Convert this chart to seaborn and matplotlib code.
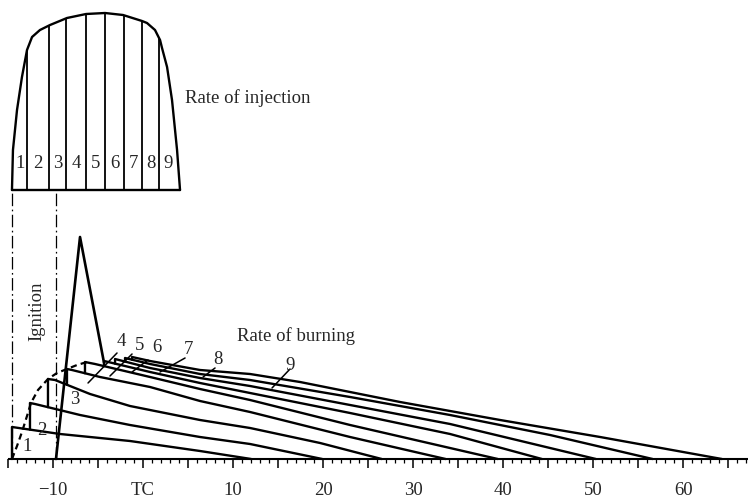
import numpy as np
import pandas as pd
import matplotlib
matplotlib.use("Agg")
import matplotlib.pyplot as plt
import seaborn as sns
from matplotlib.ticker import MultipleLocator, FuncFormatter

sns.set_theme(style="white")
plt.rcParams["font.family"] = ["Liberation Serif", "DejaVu Serif"]
plt.rcParams["lines.scale_dashes"] = False

# ---------------- data (crank angle in degrees, rate in arbitrary units) ----------------
# Rate of injection outline (relative to its own base line)
inj_deg = [-14.57, -14.46, -14.01, -13.46, -12.90, -12.34, -11.46, -10.34, -8.46, -6.34,
           -4.23, -2.23, -0.12, 0.43, 1.32, 1.88, 2.10, 2.66, 3.21, 3.77, 4.10]
inj_rate = [0.0, 4.0, 8.0, 11.3, 14.0, 15.3, 16.0, 16.5, 17.2, 17.6,
            17.7, 17.5, 16.9, 16.7, 16.0, 15.0, 14.2, 12.3, 9.0, 4.0, 0.0]
inj_dividers = [-12.90, -10.46, -8.57, -6.34, -4.23, -2.12, -0.12, 1.77]
parcel_labels = ["1", "2", "3", "4", "5", "6", "7", "8", "9"]

start_of_injection = -14.57
ignition = -9.68

# Premixed spike
spike_deg = [-9.68, -7.01, -4.34]
spike_rate = [0.0, 22.2, 9.6]

# Dashed envelope of burning start
env_deg = [-14.57, -14.01, -13.46, -12.90, -12.46, -11.68, -10.57, -9.57, -8.46, -7.34, -6.23]
env_rate = [0.0, 1.3, 2.7, 4.3, 5.6, 6.9, 8.0, 8.6, 9.0, 9.4, 9.7]

# Cumulative burning-rate curves 1..9
c1_deg = [-14.57, -9.23, -1.46, 6.32, 12.0]
c1_rate = [3.2, 2.5, 1.8, 0.8, 0.0]
c2_deg = [-12.57, -12.01, -7.01, -1.46, 6.32, 11.88, 19.9]
c2_rate = [5.6, 5.5, 4.4, 3.4, 2.2, 1.5, 0.0]
c3_deg = [-10.57, -9.79, -5.90, -1.46, 6.32, 11.88, 19.66, 26.5]
c3_rate = [8.0, 7.9, 6.5, 5.3, 3.9, 3.1, 1.6, 0.0]
c4_deg = [-8.46, -7.90, -4.79, 0.77, 6.32, 11.88, 22.99, 33.6]
c4_rate = [9.0, 8.9, 8.2, 7.2, 5.8, 4.7, 2.2, 0.0]
c5_deg = [-6.46, -5.34, 0.77, 6.32, 11.88, 22.99, 39.4]
c5_rate = [9.7, 9.5, 8.2, 7.0, 5.9, 3.4, 0.0]
c6_deg = [-4.34, 0.77, 6.32, 11.88, 22.99, 34.10, 44.3]
c6_rate = [9.8, 8.7, 7.6, 6.6, 4.6, 2.5, 0.0]
c7_deg = [-3.12, 0.77, 6.32, 11.88, 22.99, 34.10, 50.3]
c7_rate = [10.0, 9.1, 8.1, 7.3, 5.4, 3.5, 0.0]
c8_deg = [-2.01, 0.77, 6.32, 11.88, 22.99, 34.10, 45.21, 56.6]
c8_rate = [10.1, 9.5, 8.5, 7.9, 6.2, 4.4, 2.4, 0.0]
c9_deg = [-1.23, 0.77, 6.32, 11.88, 17.43, 28.54, 39.66, 50.77, 64.3]
c9_rate = [10.2, 9.8, 8.9, 8.5, 7.7, 5.7, 3.9, 2.2, 0.0]

curve_degs = [c1_deg, c2_deg, c3_deg, c4_deg, c5_deg, c6_deg, c7_deg, c8_deg, c9_deg]
curve_rates = [c1_rate, c2_rate, c3_rate, c4_rate, c5_rate, c6_rate, c7_rate, c8_rate, c9_rate]

# curve number labels (position of text)
curve_label_deg = [-12.90, -11.23, -7.57, -2.46, -0.34, 1.54, 4.99, 8.32, 16.32]
curve_label_rate = [1.3, 2.9, 6.0, 11.8, 11.3, 11.1, 10.9, 9.9, 9.4]

x_ticklabels = {-10: "\u221210", 0: "TC", 10: "10", 20: "20", 30: "30",
                40: "40", 50: "50", 60: "60"}

# ---------------- layout constants ----------------
INJ_BASE = 26.9
FS = 13.5

fig = plt.figure(figsize=(7.48, 4.98), dpi=100)
ax = fig.add_axes([0, 0, 1, 1])
ax.set_xlim(-15.9, 67.2)
ax.set_ylim(-3.9, 45.9)

# ---------------- burning curves (cumulative) ----------------
rows = []
prev_deg, prev_rate = None, None
for k, (d, r) in enumerate(zip(curve_degs, curve_rates), start=1):
    bottom = 0.0 if prev_deg is None else float(np.interp(d[0], prev_deg, prev_rate))
    pts = [(d[0], bottom)] + list(zip(d, r))
    for i, (x, y) in enumerate(pts):
        rows.append({"deg": x, "rate": y, "curve": k, "order": i})
    prev_deg, prev_rate = d, r
burn = pd.DataFrame(rows)
sns.lineplot(data=burn, x="deg", y="rate", units="curve", estimator=None, sort=False,
             color="black", lw=1.7, legend=False, ax=ax)

# spike
sns.lineplot(x=spike_deg, y=spike_rate, sort=False, estimator=None, color="black",
             lw=1.9, ax=ax)
# envelope
sns.lineplot(x=env_deg, y=env_rate, sort=False, estimator=None, color="black",
             lw=1.6, linestyle=(0, (4.5, 3.0)), ax=ax)

# ---------------- injection diagram ----------------
inj_df = pd.DataFrame({"deg": inj_deg, "rate": np.array(inj_rate) + INJ_BASE})
sns.lineplot(data=inj_df, x="deg", y="rate", sort=False, estimator=None,
             color="black", lw=1.7, ax=ax)
ax.plot([inj_deg[0], inj_deg[-1]], [INJ_BASE, INJ_BASE], color="black", lw=1.7)
div_tops = np.interp(inj_dividers, inj_deg, inj_rate) + INJ_BASE
ax.vlines(inj_dividers, INJ_BASE, div_tops, color="black", lw=1.3)
bounds = [-14.46] + list(inj_dividers) + [3.88]
for i, lab in enumerate(parcel_labels):
    ax.text((bounds[i] + bounds[i + 1]) / 2, INJ_BASE + 2.6, lab, ha="center",
            va="center", fontsize=FS)

# dash-dot reference lines
for xv in (start_of_injection, ignition):
    ax.plot([xv, xv], [0, INJ_BASE], color="black", lw=0.9,
            linestyle=(0, (9, 2.5, 1.2, 2.5)))

# ---------------- text ----------------
ax.text(4.66, 36.1, "Rate of injection", ha="left", va="center", fontsize=FS)
ax.text(10.43, 12.3, "Rate of burning", ha="left", va="center", fontsize=FS)
ax.text(-11.79, 14.8, "Ignition", ha="center", va="center", rotation=90, fontsize=FS)

leader_targets = {4: (-6.12, 7.6), 5: (-3.68, 8.3), 6: (-1.23, 8.7), 7: (1.88, 8.7),
                  8: (6.66, 8.2), 9: (14.32, 7.1)}
leader_starts = {4: (-2.9, 10.6), 5: (-1.23, 10.5), 6: (0.54, 9.9), 7: (4.66, 10.1),
                 8: (7.99, 9.1), 9: (16.32, 9.0)}
for i, lab in enumerate(parcel_labels):
    ax.text(curve_label_deg[i], curve_label_rate[i], lab, ha="center", va="center",
            fontsize=FS)
    k = i + 1
    if k in leader_targets:
        (x0, y0), (x1, y1) = leader_starts[k], leader_targets[k]
        ax.plot([x0, x1], [y0, y1], color="black", lw=1.1)

# ---------------- axis ----------------
for s in ("top", "right", "left"):
    ax.spines[s].set_visible(False)
ax.spines["bottom"].set_position(("data", 0))
ax.spines["bottom"].set_bounds(-14.9, 67.2)
ax.spines["bottom"].set_linewidth(1.5)
ax.spines["bottom"].set_color("black")
ax.set_yticks([])
ax.xaxis.set_major_locator(MultipleLocator(5))
ax.xaxis.set_minor_locator(MultipleLocator(1))
ax.xaxis.set_major_formatter(FuncFormatter(lambda v, p: x_ticklabels.get(int(round(v)), "")))
ax.tick_params(axis="x", which="major", direction="out", length=6.5, width=1.1,
               pad=10, labelsize=FS, color="black", bottom=True)
ax.tick_params(axis="x", which="minor", direction="out", length=3.0, width=0.9,
               color="black", bottom=True)
ax.set_xlabel("")
ax.set_ylabel("")
ax.patch.set_alpha(0)
fig.patch.set_facecolor("white")

fig.savefig("out.png", dpi=100, facecolor="white")
